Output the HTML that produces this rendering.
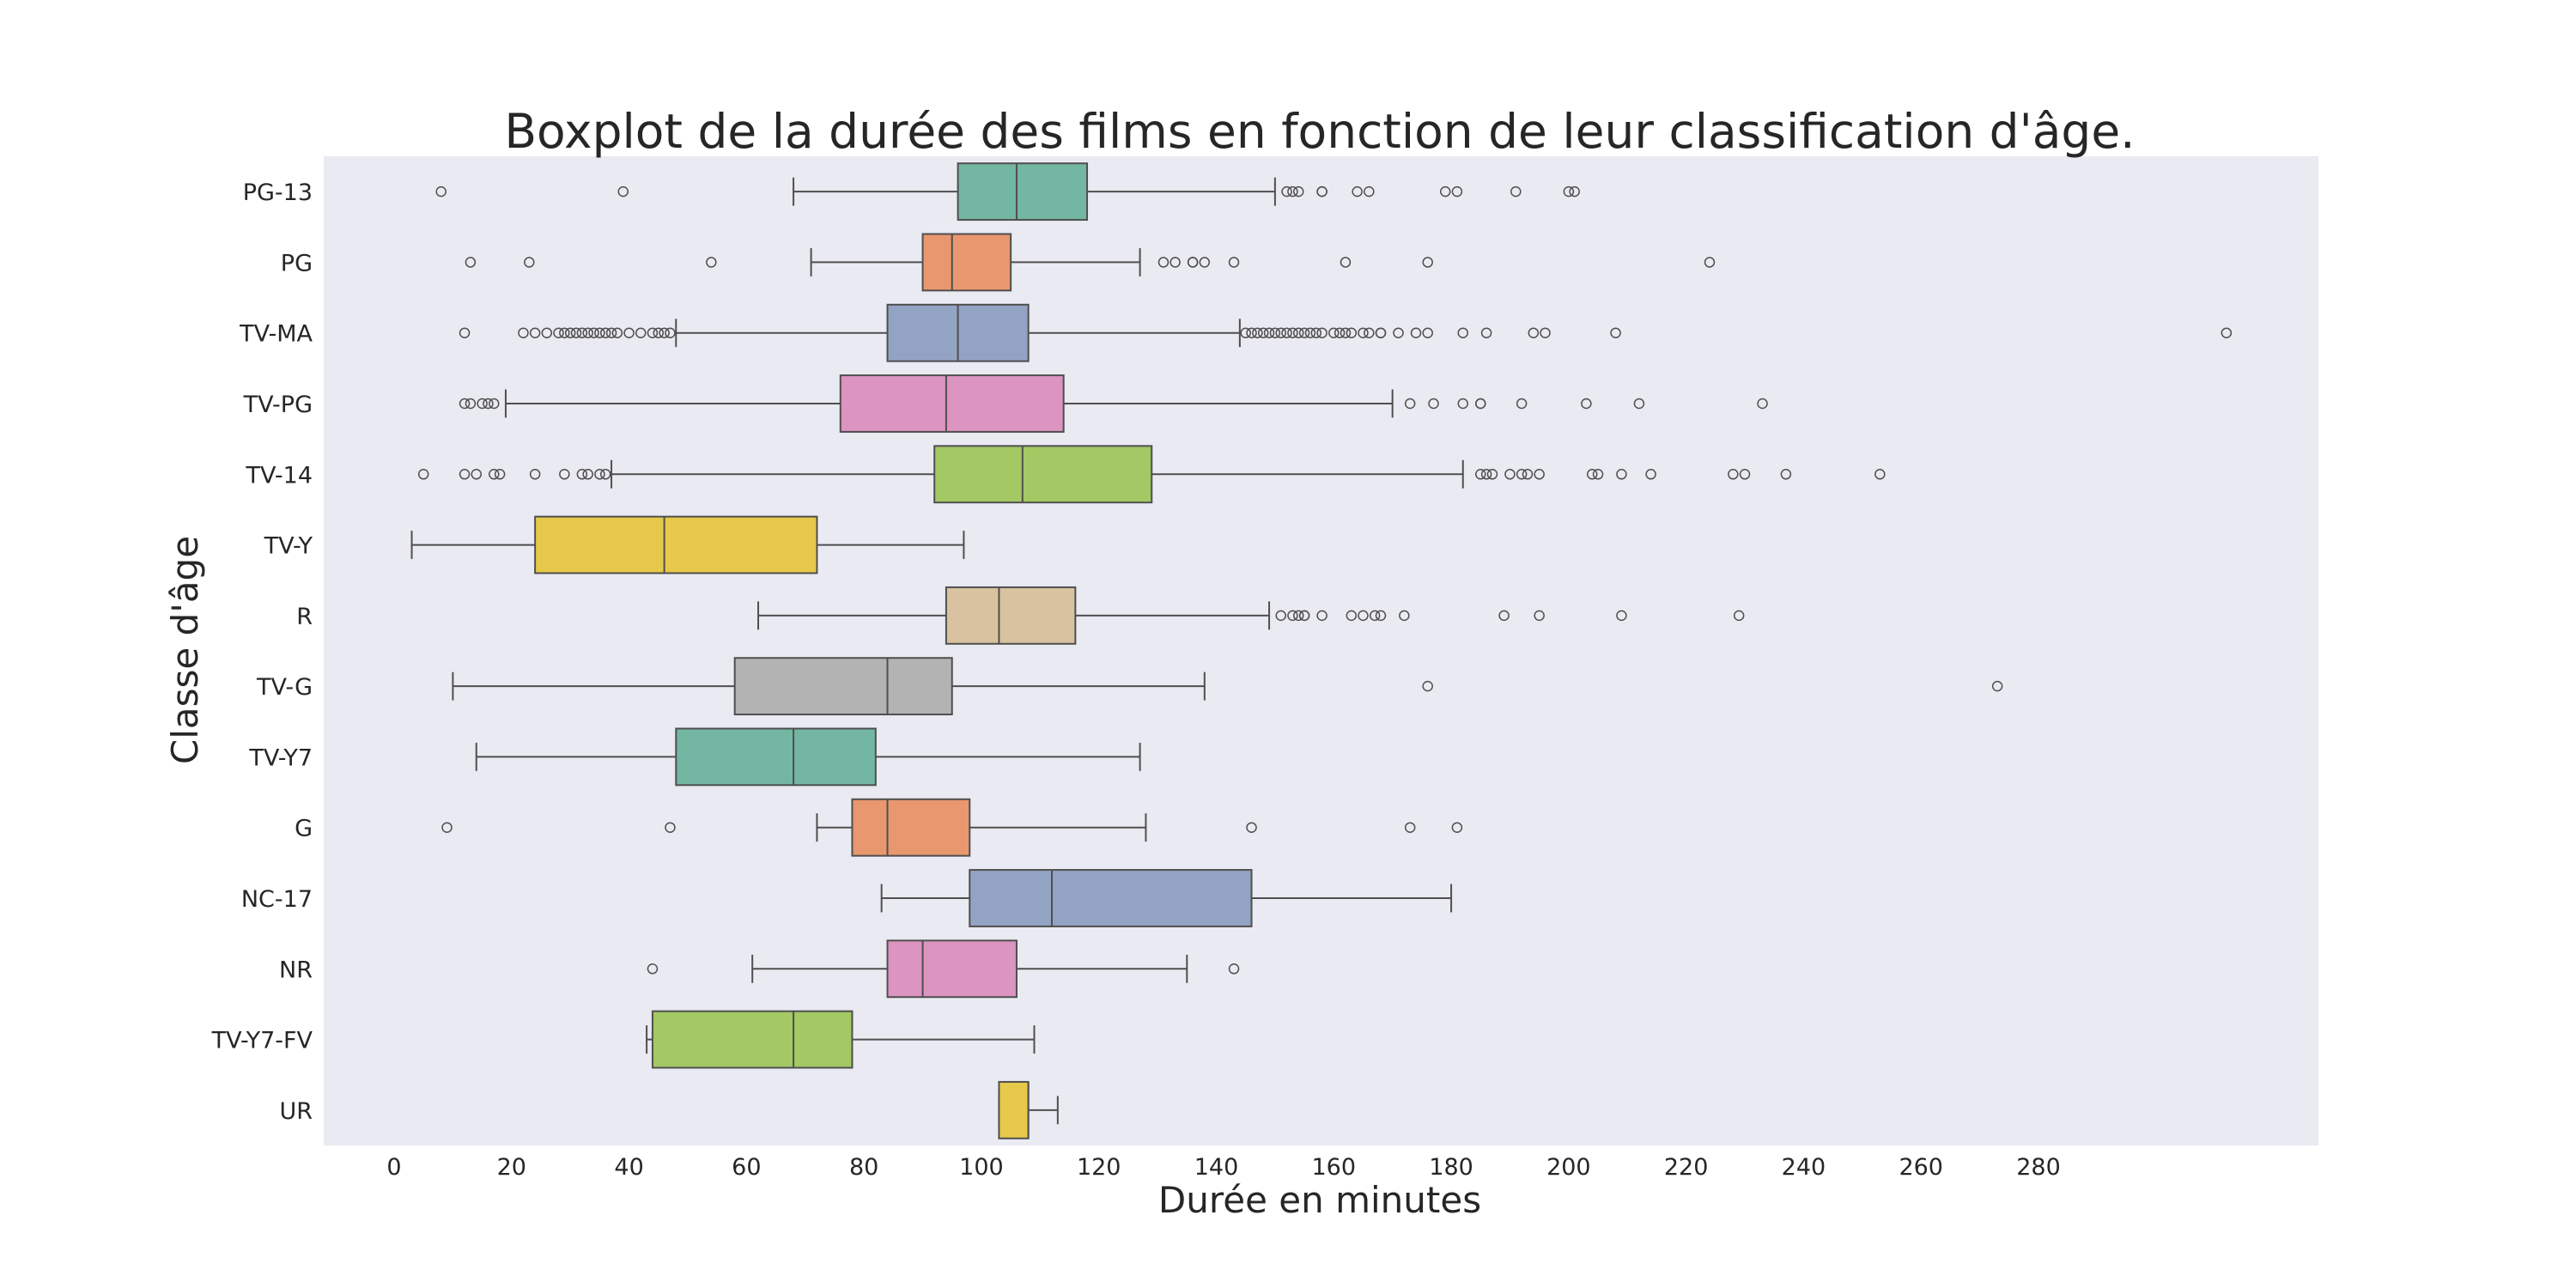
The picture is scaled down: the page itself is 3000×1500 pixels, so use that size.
<!DOCTYPE html>
<html><head><meta charset="utf-8"><style>
html,body{margin:0;padding:0;background:#fff;}
svg{display:block;font-family:"DejaVu Sans","Liberation Sans",sans-serif;}
</style></head><body>
<svg id="chart" width="3000" height="1500" viewBox="0 0 3000 1500">
<rect x="377" y="182" width="2323" height="1152" fill="#eaeaf2"/>
<text x="1537" y="172" font-size="55" fill="#262626" text-anchor="middle">Boxplot de la durée des films en fonction de leur classification d'âge.</text>
<text x="1537" y="1412" font-size="42" fill="#262626" text-anchor="middle">Durée en minutes</text>
<text x="230" y="757" font-size="42" fill="#262626" text-anchor="middle" transform="rotate(-90 230 757)">Classe d'âge</text>
<g id="marks"></g>
</svg>
<script>
const categories = ["PG-13","PG","TV-MA","TV-PG","TV-14","TV-Y","R","TV-G","TV-Y7","G","NC-17","NR","TV-Y7-FV","UR"];
const whiskerLow = [68,71,48,19,37,3,62,10,14,72,83,61,43,103];
const q1Values = [96,90,84,76,92,24,94,58,48,78,98,84,44,103];
const medianValues = [106,95,96,94,107,46,103,84,68,84,112,90,68,108];
const q3Values = [118,105,108,114,129,72,116,95,82,98,146,106,78,108];
const whiskerHigh = [150,127,144,170,182,97,149,138,127,128,180,135,109,113];
const outliers = [
 [8,39,152,153,154,158,158,164,166,179,181,191,200,201],
 [13,23,54,131,133,136,136,138,143,162,176,224],
 [12,22,24,26,28,29,30,31,32,33,34,35,36,37,38,40,42,44,45,46,47,145,146,147,148,149,150,151,152,153,154,155,156,157,158,160,161,162,163,165,166,168,168,171,174,176,182,186,194,196,208,312],
 [12,13,15,16,17,173,177,182,185,185,192,203,212,233],
 [5,12,14,17,18,24,29,32,33,35,36,185,186,187,190,192,193,195,204,205,209,214,228,230,237,253],
 [],
 [151,153,154,155,155,158,163,165,167,168,172,189,195,209,229],
 [176,273],
 [],
 [9,47,146,173,181],
 [],
 [44,143],
 [],
 []
];
const xTicks = [0,20,40,60,80,100,120,140,160,180,200,220,240,260,280];
const colors = ['#73b6a1','#e9976f','#93a3c4','#dc94c0','#a3c864','#e6c94a','#d9c29f','#b3b3b3'];

const NS = "http://www.w3.org/2000/svg";
const g = document.getElementById('marks');
const plotTop = 182, plotH = 1152;
const band = plotH / categories.length;
function xScale(v){ return 459 + v * (2374 - 459) / 280; }
function yScale(i){ return plotTop + band * (i + 0.5); }
function mk(tag, attrs){ const e = document.createElementNS(NS, tag); for (const k in attrs) e.setAttribute(k, attrs[k]); g.appendChild(e); return e; }
const lc = '#4f4f4f';
xTicks.forEach(t => {
  const e = mk('text', {x: xScale(t), y: 1368, 'font-size': 27, fill: '#262626', 'text-anchor': 'middle'});
  e.textContent = t;
  
  
});
categories.forEach((c, i) => {
  const cy = yScale(i), bh = band * 0.8, col = colors[i % colors.length];
  const lab = mk('text', {x: 364, y: cy + 10, 'font-size': 27, fill: '#262626', 'text-anchor': 'end'});
  lab.textContent = c;
  
  
  const w1 = mk('line', {x1: xScale(whiskerLow[i]), x2: xScale(q1Values[i]), y1: cy, y2: cy, stroke: lc, 'stroke-width': 2});
  
  
  const w2 = mk('line', {x1: xScale(q3Values[i]), x2: xScale(whiskerHigh[i]), y1: cy, y2: cy, stroke: lc, 'stroke-width': 2});
  
  
  [whiskerLow[i], whiskerHigh[i]].forEach(v => {
    const cap = mk('line', {x1: xScale(v), x2: xScale(v), y1: cy - bh / 4, y2: cy + bh / 4, stroke: lc, 'stroke-width': 2});
    
    
  });
  const box = mk('rect', {x: xScale(q1Values[i]), y: cy - bh / 2, width: Math.max(xScale(q3Values[i]) - xScale(q1Values[i]), 1), height: bh, fill: col, stroke: lc, 'stroke-width': 2});
  
  
  const med = mk('line', {x1: xScale(medianValues[i]), x2: xScale(medianValues[i]), y1: cy - bh / 2, y2: cy + bh / 2, stroke: lc, 'stroke-width': 2});
  
  
  outliers[i].forEach(v => {
    const o = mk('circle', {cx: xScale(v), cy: cy, r: 5.5, fill: 'none', stroke: '#4f4f4f', 'stroke-width': 1.5});
    
    
  });
});
</script>
</body></html>
